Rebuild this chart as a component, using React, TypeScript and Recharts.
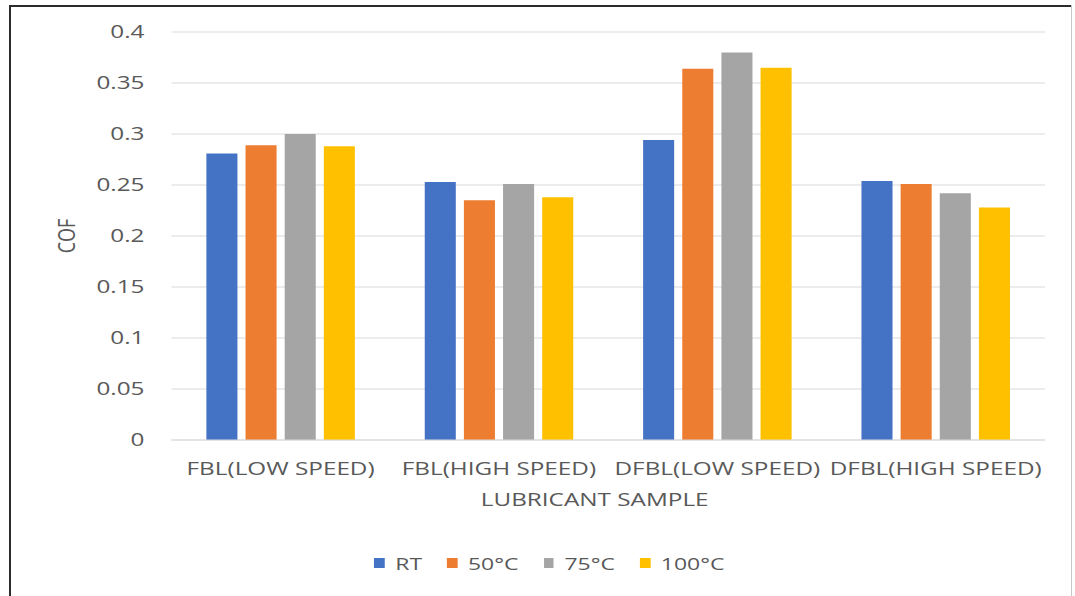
import React from 'react';
import { BarChart, Bar, XAxis, YAxis, CartesianGrid, Legend } from 'recharts';

const categories = ['FBL(LOW SPEED)', 'FBL(HIGH SPEED)', 'DFBL(LOW SPEED)', 'DFBL(HIGH SPEED)'];
const rtValues = [0.281, 0.253, 0.294, 0.254];
const c50Values = [0.289, 0.235, 0.364, 0.251];
const c75Values = [0.300, 0.251, 0.380, 0.242];
const c100Values = [0.288, 0.238, 0.365, 0.228];
const yTicks = [0, 0.05, 0.1, 0.15, 0.2, 0.25, 0.3, 0.35, 0.4];

const seriesNames = ['RT', '50°C', '75°C', '100°C'];
const seriesKeys = ['rt', 'c50', 'c75', 'c100'];
const seriesColors = ['#4472C4', '#ED7D31', '#A5A5A5', '#FFC000'];

const data = categories.map((name, i) => ({
  name,
  rt: rtValues[i],
  c50: c50Values[i],
  c75: c75Values[i],
  c100: c100Values[i],
}));

const SX = 1.35;
const FONT = '"Open Sans", sans-serif';
const TEXT = '#595959';

const LegendContent = () => (
  <div
    style={{
      display: 'flex',
      justifyContent: 'center',
      alignItems: 'center',
      height: 24,
      paddingLeft: 40,
      fontFamily: FONT,
      fontSize: 17,
      color: TEXT,
    }}
  >
    {seriesNames.map((n, i) => (
      <div key={n} style={{ display: 'flex', alignItems: 'center', marginRight: i < seriesNames.length - 1 ? 18.5 : 0 }}>
        <span style={{ display: 'inline-block', width: 7.5, height: 10, background: seriesColors[i], marginRight: 8 }} />
        <span>{n}</span>
      </div>
    ))}
  </div>
);

export default function App() {
  return (
    <div style={{ position: 'absolute', left: 0, top: 0, width: 1075, height: 596, overflow: 'hidden', background: '#fff' }}>
      <div style={{ position: 'absolute', left: 9, top: 5, width: 2, height: 591, background: '#2b2b2b' }} />
      <div style={{ position: 'absolute', left: 9, top: 5, width: 1063, height: 2, background: '#2b2b2b' }} />
      <div style={{ position: 'absolute', left: 1071, top: 5, width: 1, height: 591, background: '#c8c8c8' }} />
      <div style={{ position: 'absolute', left: 0, top: 0, transform: `scaleX(${SX})`, transformOrigin: '0 0' }}>
        <BarChart
          width={796}
          height={596}
          data={data}
          margin={{ top: 32, right: 22, left: 0, bottom: 21 }}
          barCategoryGap="16%"
          barGap={6}
        >
          <CartesianGrid vertical={false} stroke="#d9d9d9" />
          <XAxis
            dataKey="name"
            height={111}
            axisLine={{ stroke: '#d9d9d9' }}
            tickLine={false}
            tickSize={6}
            tickMargin={16}
            tick={{ fill: TEXT, fontSize: 18, fontFamily: FONT }}
            interval={0}
            label={{
              value: 'LUBRICANT SAMPLE',
              position: 'insideTop',
              offset: 53,
              dx: -10,
              fill: TEXT,
              fontSize: 18,
              fontFamily: FONT,
            }}
          />
          <YAxis
            width={127}
            domain={[0, 0.4]}
            ticks={yTicks}
            axisLine={false}
            tickLine={false}
            tickSize={6}
            tickMargin={14}
            tick={{ fill: TEXT, fontSize: 18, fontFamily: FONT }}
            tickFormatter={(v: number) => String(v)}
            label={{
              value: 'COF',
              angle: -90,
              position: 'center',
              dx: -14,
              fill: TEXT,
              fontSize: 18,
              fontFamily: FONT,
            }}
          />
          <Legend verticalAlign="bottom" content={<LegendContent />} />
          {seriesKeys.map((k, i) => (
            <Bar key={k} dataKey={k} name={seriesNames[i]} fill={seriesColors[i]} isAnimationActive={false} />
          ))}
        </BarChart>
      </div>
    </div>
  );
}
